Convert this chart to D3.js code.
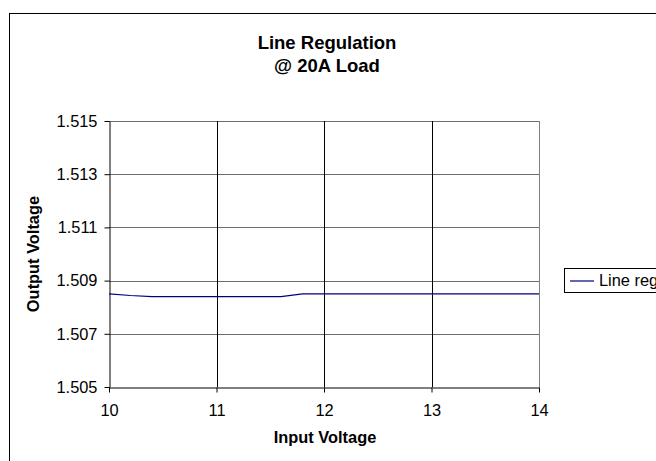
<!DOCTYPE html>
<html>
<head>
<meta charset="utf-8">
<script src="https://cdn.jsdelivr.net/npm/d3@7"></script>
<style>
  body { margin: 0; background: #fff; overflow: hidden; }
  svg { display: block; font-family: "Liberation Sans", Arial, sans-serif; }
</style>
</head>
<body>
<script>
// data
var inputVoltage = [10, 10.2, 10.4, 10.6, 10.8, 11, 11.2, 11.4, 11.6, 11.8, 12, 12.2, 12.4, 12.6, 12.8, 13, 13.2, 13.4, 13.6, 13.8, 14];
var outputVoltage = [1.5085, 1.50844, 1.5084, 1.5084, 1.5084, 1.5084, 1.5084, 1.5084, 1.5084, 1.5085, 1.5085, 1.5085, 1.5085, 1.5085, 1.5085, 1.5085, 1.5085, 1.5085, 1.5085, 1.5085, 1.5085];
var xTicks = [10, 11, 12, 13, 14];
var yTicks = [1.505, 1.507, 1.509, 1.511, 1.513, 1.515];
var seriesName = "Line regulation";

var outerWidth = 656, outerHeight = 461;
var margin = { top: 121, left: 109 },
    width = 430,
    height = 266;

var svg = d3.select("body").append("svg")
    .attr("width", outerWidth)
    .attr("height", outerHeight);

// chart area border (runs off right and bottom)
svg.append("rect")
    .attr("x", 9.5).attr("y", 13.5)
    .attr("width", 700).attr("height", 500)
    .attr("fill", "#fff")
    .attr("stroke", "#000")
    .attr("stroke-width", 1);

var x = d3.scaleLinear().domain([10, 14]).range([0, width]);
var y = d3.scaleLinear().domain([1.505, 1.515]).range([height, 0]);

var g = svg.append("g")
    .attr("transform", "translate(" + margin.left + "," + margin.top + ")");

// horizontal gridlines
g.selectAll(".hgrid")
    .data(yTicks.slice(1))
    .enter().append("line")
    .attr("x1", 0).attr("x2", width)
    .attr("y1", function(d) { return Math.round(y(d)) + 0.5; })
    .attr("y2", function(d) { return Math.round(y(d)) + 0.5; })
    .attr("stroke", "#6e6e6e");

// vertical gridlines
g.selectAll(".vgrid")
    .data(xTicks.slice(1, -1))
    .enter().append("line")
    .attr("y1", 0).attr("y2", height)
    .attr("x1", function(d) { return Math.round(x(d)) + 0.5; })
    .attr("x2", function(d) { return Math.round(x(d)) + 0.5; })
    .attr("stroke", "#000");

// right border of plot area
g.append("line")
    .attr("x1", width + 0.5).attr("x2", width + 0.5)
    .attr("y1", 0).attr("y2", height)
    .attr("stroke", "#808080");

// axes
var xAxis = g.append("g")
    .attr("transform", "translate(0," + (height + 0.5) + ")")
    .call(d3.axisBottom(x).tickValues(xTicks).tickSize(5).tickSizeOuter(0).tickFormat(d3.format("d")));
var yAxis = g.append("g")
    .attr("transform", "translate(0.5,0)")
    .call(d3.axisLeft(y).tickValues(yTicks).tickSize(5).tickSizeOuter(0).tickFormat(d3.format(".3f")));

[xAxis, yAxis].forEach(function(a) {
    a.selectAll("text")
        .attr("font-family", "Liberation Sans, Arial, sans-serif")
        .attr("font-size", "16.4px")
        .attr("fill", "#000");
    a.selectAll("line, path").attr("stroke", "#000");
});
xAxis.selectAll("text").attr("y", 28).attr("dy", 0);
yAxis.selectAll("text").attr("x", -12);

// the line
var line = d3.line()
    .x(function(d, i) { return x(inputVoltage[i]); })
    .y(function(d) { return y(d); });

g.append("path")
    .datum(outputVoltage)
    .attr("fill", "none")
    .attr("stroke", "#000080")
    .attr("stroke-width", 1.2)
    .attr("d", line);

// titles
svg.append("text")
    .attr("x", 327).attr("y", 49)
    .attr("text-anchor", "middle")
    .attr("font-size", "18.5px").attr("font-weight", "700")
    .text("Line Regulation");
svg.append("text")
    .attr("x", 327).attr("y", 72)
    .attr("text-anchor", "middle")
    .attr("font-size", "18.5px").attr("font-weight", "700")
    .text("@ 20A Load");

svg.append("text")
    .attr("x", 325).attr("y", 443)
    .attr("text-anchor", "middle")
    .attr("font-size", "16.4px").attr("font-weight", "700")
    .text("Input Voltage");

svg.append("text")
    .attr("transform", "translate(39," + (margin.top + height / 2) + ") rotate(-90)")
    .attr("text-anchor", "middle")
    .attr("font-size", "16.4px").attr("font-weight", "700")
    .text("Output Voltage");

// legend (runs off the right edge as in the original)
var leg = svg.append("g").attr("transform", "translate(564,268)");
leg.append("rect")
    .attr("x", 0.5).attr("y", 0.5)
    .attr("width", 200).attr("height", 24)
    .attr("fill", "#fff").attr("stroke", "#000");
leg.append("line")
    .attr("x1", 6).attr("x2", 30)
    .attr("y1", 13).attr("y2", 13)
    .attr("stroke", "#000080").attr("stroke-width", 1.2);
leg.append("text")
    .attr("x", 35).attr("y", 18)
    .attr("font-size", "16.4px")
    .text(seriesName);
</script>
</body>
</html>
